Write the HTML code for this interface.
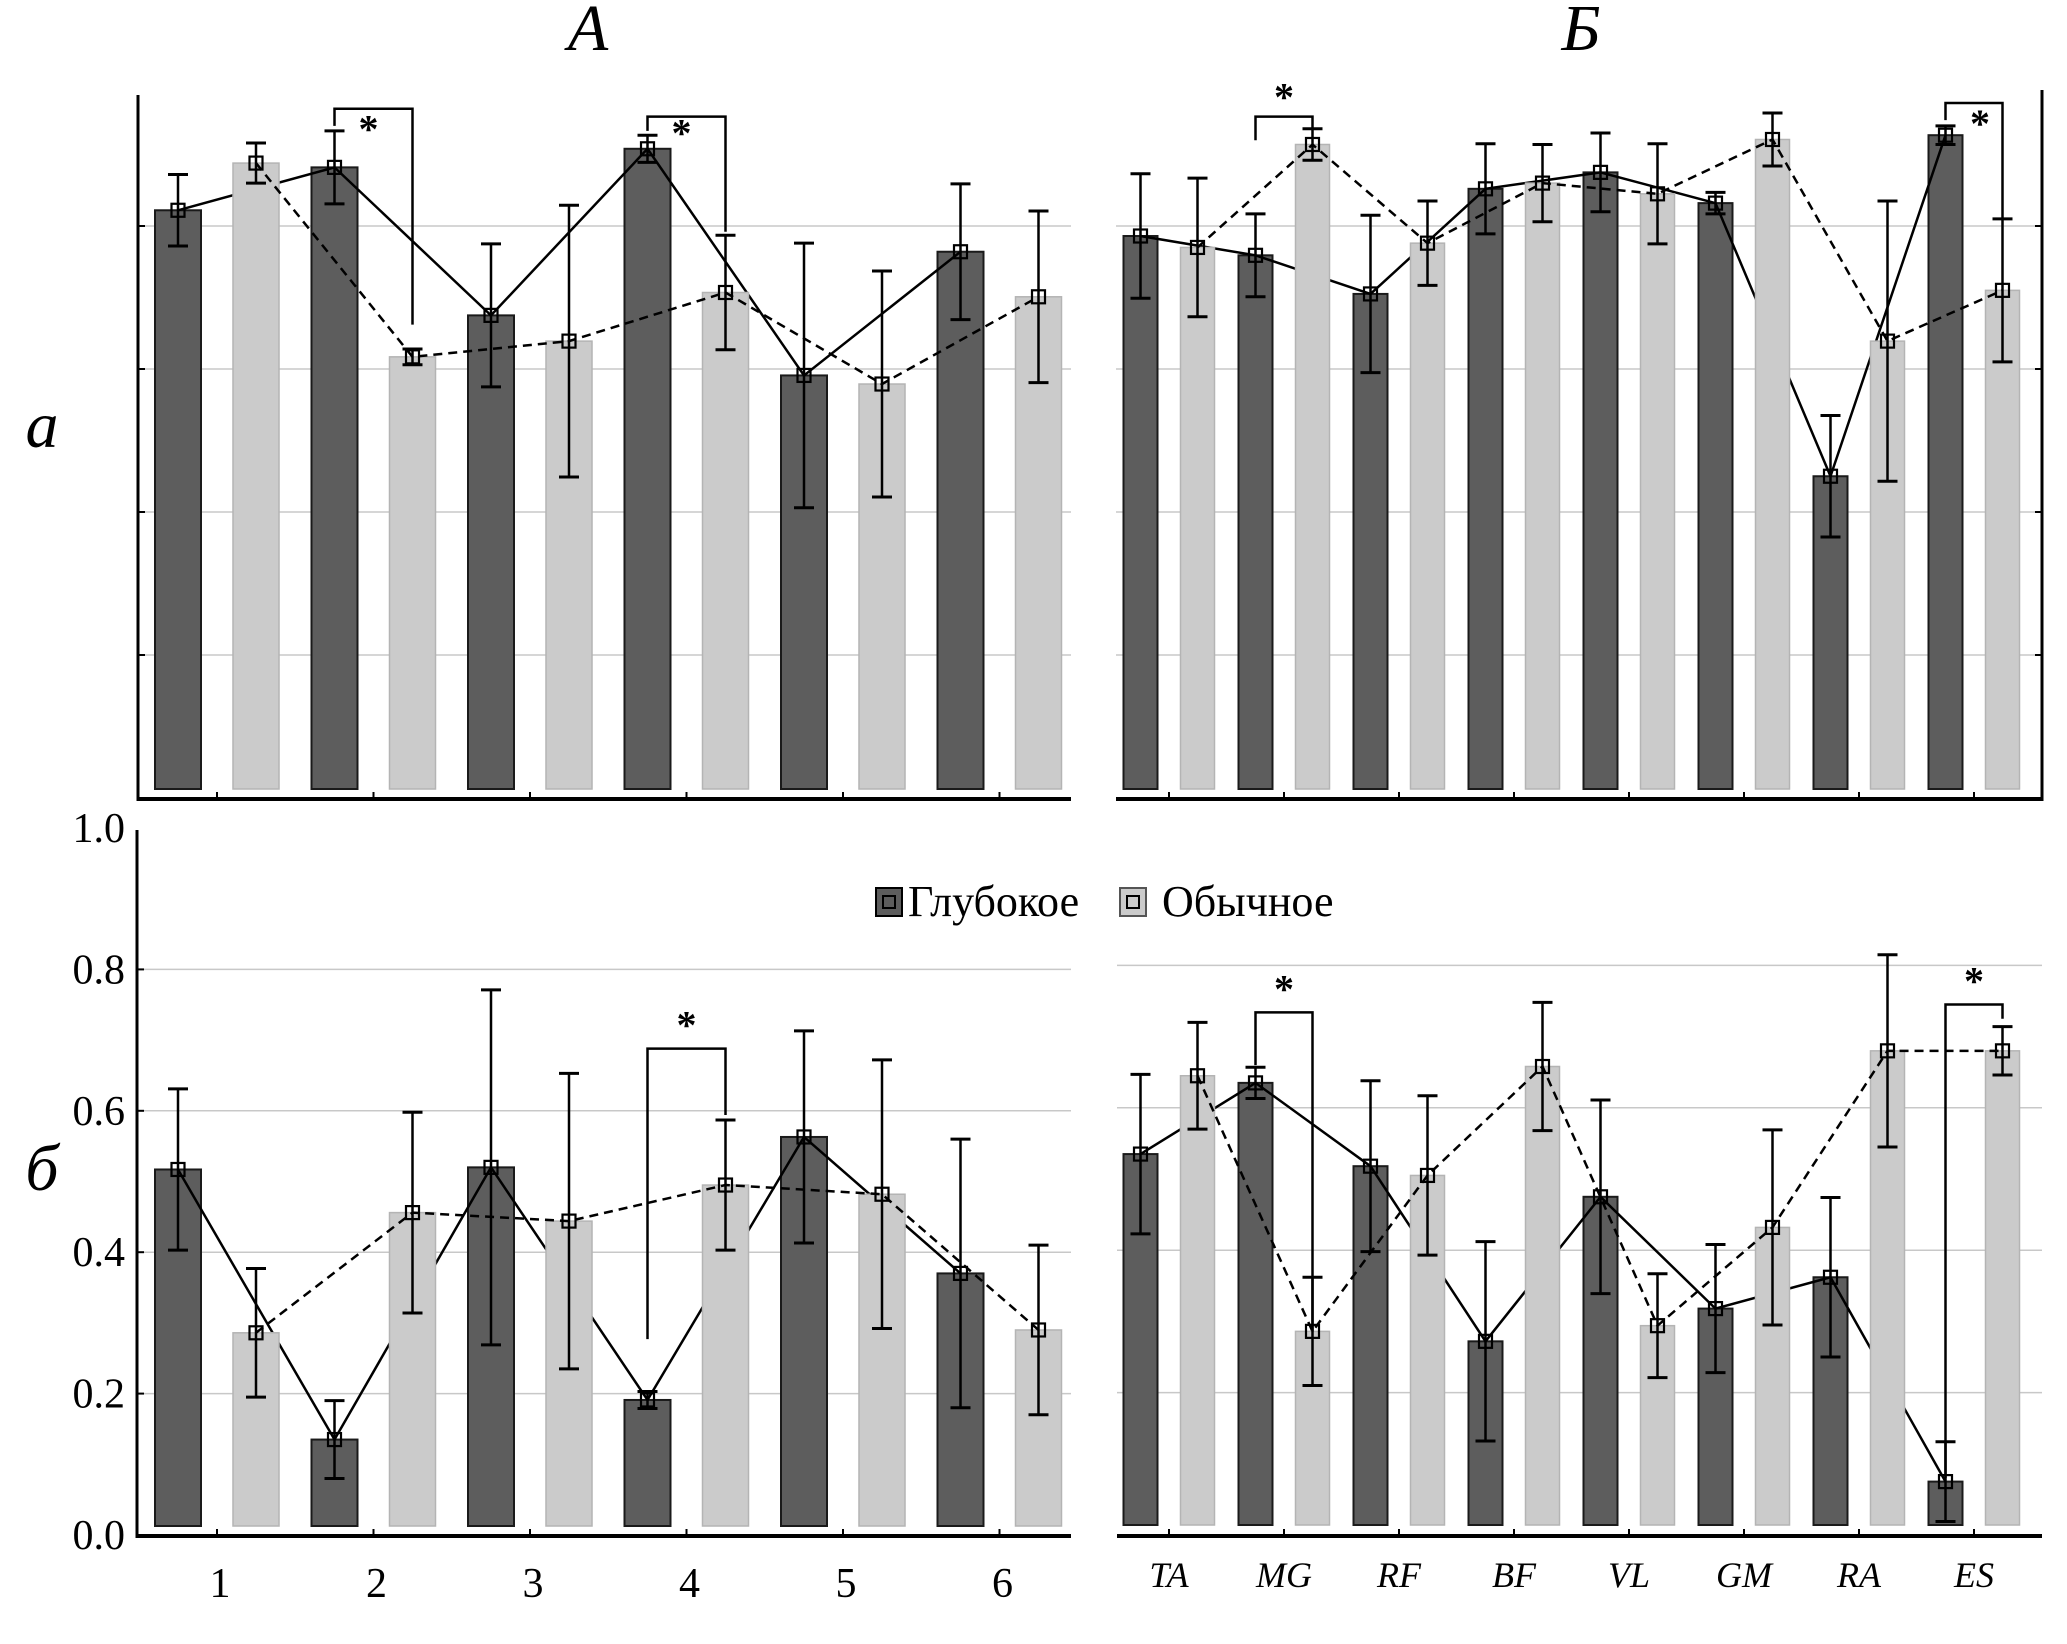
<!DOCTYPE html>
<html><head><meta charset="utf-8">
<style>
html,body{margin:0;padding:0;background:#fff;}
svg{display:block;}
text{font-family:"Liberation Serif",serif;fill:#000;}
</style></head>
<body>
<svg id="chart" width="2067" height="1644" viewBox="0 0 2067 1644" xmlns="http://www.w3.org/2000/svg">
<text x="588" y="50" font-size="66" font-style="italic" text-anchor="middle">A</text>
<text x="1581" y="50" font-size="66" font-style="italic" text-anchor="middle">Б</text>
<text x="42" y="447" font-size="66" font-style="italic" text-anchor="middle">a</text>
<text x="42" y="1190" font-size="66" font-style="italic" text-anchor="middle">б</text>
<g id="layer"></g>
<g>
  <rect x="876" y="888" width="26" height="28" fill="#5d5d5d" stroke="#000" stroke-width="2"/>
  <rect x="883" y="896" width="12" height="12" fill="none" stroke="#000" stroke-width="2"/>
  <text x="908" y="916" font-size="44">Глубокое</text>
  <rect x="1120" y="888" width="26" height="28" fill="#cbcbcb" stroke="#555" stroke-width="2"/>
  <rect x="1127" y="896" width="12" height="12" fill="none" stroke="#000" stroke-width="2"/>
  <text x="1162" y="916" font-size="44">Обычное</text>
</g>
</svg>
<script>
// ---- data ----
const catsA = ["1","2","3","4","5","6"];
const catsB = ["TA","MG","RF","BF","VL","GM","RA","ES"];
// top row (a)
const aDeepA  = [0.822,0.882,0.675,0.908,0.591,0.764];
const aDeepAErr = [0.05,0.051,0.10,0.019,0.185,0.095];
const aNormA  = [0.888,0.617,0.639,0.707,0.579,0.701];
const aNormAErr = [0.028,0.011,0.19,0.08,0.158,0.12];
const aDeepB  = [0.786,0.759,0.705,0.852,0.875,0.832,0.450,0.927];
const aDeepBErr = [0.087,0.058,0.11,0.063,0.055,0.015,0.085,0.013];
const aNormB  = [0.770,0.914,0.776,0.860,0.845,0.921,0.639,0.710];
const aNormBErr = [0.097,0.022,0.059,0.054,0.07,0.037,0.196,0.10];
// bottom row (б)
const bDeepA  = [0.517,0.135,0.520,0.191,0.563,0.370];
const bDeepAErr = [0.114,0.055,0.251,0.012,0.15,0.19];
const bNormA  = [0.286,0.456,0.444,0.495,0.482,0.290];
const bNormAErr = [0.091,0.142,0.209,0.092,0.19,0.12];
const bDeepB  = [0.535,0.635,0.518,0.272,0.475,0.318,0.362,0.075];
const bDeepBErr = [0.112,0.022,0.12,0.14,0.136,0.09,0.112,0.056];
const bNormB  = [0.645,0.286,0.505,0.658,0.294,0.432,0.680,0.680];
const bNormBErr = [0.075,0.076,0.112,0.09,0.073,0.137,0.135,0.034];
const yTicks = ["0.0","0.2","0.4","0.6","0.8","1.0"];
const yTickVals = [0,0.2,0.4,0.6,0.8,1.0];
// significance brackets: group index, top value, left leg end, right leg end
const sigTA = [[1,0.964,0.94,0.662],[3,0.953,0.933,0.792]];
const sigTB = [[1,0.953,0.92,0.937],[7,0.972,0.948,0.811]];
const sigBA = [[3,0.688,0.277,0.594]];
const sigBB = [[1,0.734,0.66,0.286],[7,0.745,0.08,0.725]];

const NS="http://www.w3.org/2000/svg";
const layer=document.getElementById('layer');
function mk(tag,attrs,parent){const e=document.createElementNS(NS,tag);for(const k in attrs)e.setAttribute(k,attrs[k]);(parent||layer).appendChild(e);return e;}

function panel(cfg){
  const g=mk('g',{});
  
  
  const y=v=>cfg.y0-v*cfg.ys;
  const xc=i=>cfg.gx0+cfg.gstep*i;
  for(let i=1;i<yTickVals.length;i++){
    const v=yTickVals[i]; if(y(v)<cfg.yTop) continue;
    const l=mk('line',{x1:cfg.xL,x2:cfg.xR,y1:y(v),y2:y(v),stroke:'#c8c8c8','stroke-width':1.5},g);
    
    
    if(cfg.leftAxis){mk('line',{x1:cfg.xL,x2:cfg.xL+7,y1:y(v),y2:y(v),stroke:'#000','stroke-width':2},g);}
    if(cfg.rightAxis){mk('line',{x1:cfg.xR-7,x2:cfg.xR,y1:y(v),y2:y(v),stroke:'#000','stroke-width':2},g);}
  }
  const bw=cfg.bw, off=cfg.off;
  cfg.deep.forEach((v,i)=>{
    const r=mk('rect',{x:xc(i)-off-bw/2,y:y(v),width:bw,height:cfg.barBottom-y(v),fill:'#5d5d5d',stroke:'#1a1a1a','stroke-width':2},g);
    
    
  });
  const pl=mk('polyline',{points:cfg.deep.map((v,i)=>(xc(i)-off)+','+y(v)).join(' '),fill:'none',stroke:'#000','stroke-width':2.5},g);
  
  
  cfg.norm.forEach((v,i)=>{
    const r=mk('rect',{x:xc(i)+off-bw/2,y:y(v),width:bw,height:cfg.barBottom-y(v),fill:'#cbcbcb',stroke:'#b4b4b4','stroke-width':1.5},g);
    
    
  });
  const dl=mk('polyline',{points:cfg.norm.map((v,i)=>(xc(i)+off)+','+y(v)).join(' '),fill:'none',stroke:'#000','stroke-width':2.5,'stroke-dasharray':'9,6'},g);
  
  
  function err(vals,errs,sign,series){
    vals.forEach((v,i)=>{
      const x=xc(i)+sign*off, e=errs[i];
      const eg=mk('g',{},g);
      
      
      mk('line',{x1:x,x2:x,y1:y(v+e),y2:y(v-e),stroke:'#000','stroke-width':2.5},eg);
      mk('line',{x1:x-10,x2:x+10,y1:y(v+e),y2:y(v+e),stroke:'#000','stroke-width':3},eg);
      mk('line',{x1:x-10,x2:x+10,y1:y(v-e),y2:y(v-e),stroke:'#000','stroke-width':3},eg);
      const m=mk('rect',{x:x-6.5,y:y(v)-6.5,width:13,height:13,fill:'none',stroke:'#000','stroke-width':2.2},g);
      
      
    });
  }
  err(cfg.deep,cfg.deepErr,-1,'deep');
  err(cfg.norm,cfg.normErr,1,'normal');
  cfg.sig.forEach((s,k)=>{
    const xa=xc(s[0])-off, xb=xc(s[0])+off, yt=y(s[1]);
    const b=mk('polyline',{points:`${xa},${y(s[2])} ${xa},${yt} ${xb},${yt} ${xb},${y(s[3])}`,fill:'none',stroke:'#000','stroke-width':2.5},g);
    
    
    const so=cfg.starOff[k];
    const t=mk('text',{x:(xa+xb)/2+so[0],y:yt+so[1],'font-size':40,'font-weight':'bold','text-anchor':'middle','font-family':'Liberation Sans, sans-serif'},g);
    t.textContent='*';
    
    
  });
  const xa=mk('line',{x1:cfg.xL,x2:cfg.xR,y1:cfg.y0+1,y2:cfg.y0+1,stroke:'#000','stroke-width':4},g);
  
  
  cfg.cats.forEach((c,i)=>{
    mk('line',{x1:xc(i),x2:xc(i),y1:cfg.y0-6,y2:cfg.y0,stroke:'#000','stroke-width':2},g);
    if(cfg.labels){
      const t=mk('text',{x:xc(i)+(cfg.italic?0:3),y:cfg.labelY,'font-size':cfg.italic?36:42,'font-style':cfg.italic?'italic':'normal','text-anchor':'middle'},g);
      t.textContent=c;
      
      
    }
  });
  if(cfg.leftAxis){
    const ya=mk('line',{x1:cfg.xL,x2:cfg.xL,y1:cfg.yTop,y2:cfg.y0+3,stroke:'#000','stroke-width':3},g);
    
    
  }
  if(cfg.rightAxis){
    mk('line',{x1:cfg.xR,x2:cfg.xR,y1:cfg.yTop,y2:cfg.y0+3,stroke:'#000','stroke-width':3},g);
  }
  if(cfg.yLabels){
    yTicks.forEach((t,i)=>{
      const tx=mk('text',{x:125,y:y(yTickVals[i])+14,'font-size':42,'text-anchor':'end'},g);
      tx.textContent=t;
      
      
    });
  }
}

panel({name:'panel-a-left',cats:catsA,deep:aDeepA,deepErr:aDeepAErr,norm:aNormA,normErr:aNormAErr,sig:sigTA,
  y0:798,ys:715,yTop:95,barBottom:789,xL:138,xR:1071,gx0:217,gstep:156.5,bw:46,off:39,leftAxis:true,labels:false,starOff:[[-5,34],[-5,30]]});
panel({name:'panel-a-right',cats:catsB,deep:aDeepB,deepErr:aDeepBErr,norm:aNormB,normErr:aNormBErr,sig:sigTB,
  y0:798,ys:715,yTop:90,barBottom:789,xL:1116,xR:2042,gx0:1169,gstep:115,bw:34,off:28.5,rightAxis:true,labels:false,starOff:[[0,-6],[6,34]]});
panel({name:'panel-b-left',cats:catsA,deep:bDeepA,deepErr:bDeepAErr,norm:bNormA,normErr:bNormAErr,sig:sigBA,
  y0:1535,ys:707,yTop:830,barBottom:1526,xL:137,xR:1071,gx0:217,gstep:156.5,bw:46,off:39,leftAxis:true,labels:true,labelY:1597,yLabels:true,starOff:[[0,-10]]});
panel({name:'panel-b-right',cats:catsB,deep:bDeepB,deepErr:bDeepBErr,norm:bNormB,normErr:bNormBErr,sig:sigBB,
  y0:1535,ys:712,yTop:830,barBottom:1525,xL:1117,xR:2042,gx0:1169,gstep:115,bw:34,off:28.5,labels:true,italic:true,labelY:1587,starOff:[[0,-10],[0,-10]]});
</script>
</body></html>
